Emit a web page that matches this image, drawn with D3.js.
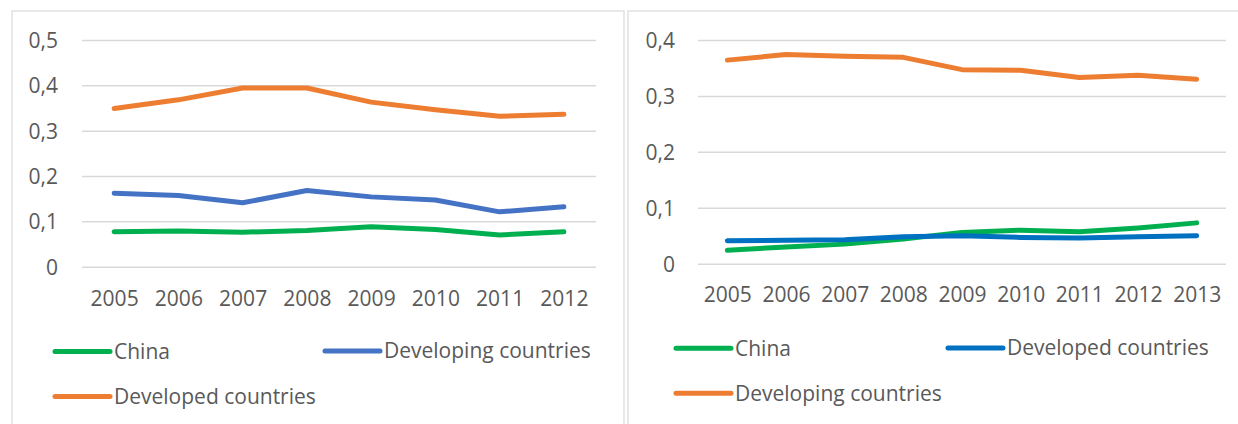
<!DOCTYPE html>
<html><head><meta charset="utf-8">
<script src="https://cdn.jsdelivr.net/npm/d3@7"></script>
<style>body{margin:0;background:#fff}svg{display:block}text{font-family:"Open Sans",sans-serif;fill:#595959}</style>
</head><body><svg id="c" width="1238" height="424"></svg>
<script>
// Left chart data
const yearsL = ["2005","2006","2007","2008","2009","2010","2011","2012"];
const chinaL = [0.077,0.079,0.076,0.080,0.088,0.082,0.070,0.077];
const developingL = [0.162,0.157,0.141,0.168,0.154,0.147,0.121,0.132];
const developedL = [0.349,0.368,0.394,0.394,0.363,0.346,0.332,0.336];
const ticksL = [0,0.1,0.2,0.3,0.4,0.5];
// Right chart data
const yearsR = ["2005","2006","2007","2008","2009","2010","2011","2012","2013"];
const chinaR = [0.024,0.030,0.035,0.044,0.056,0.060,0.057,0.064,0.073];
const developedR = [0.041,0.042,0.043,0.048,0.050,0.047,0.046,0.048,0.050];
const developingR = [0.364,0.374,0.371,0.369,0.347,0.346,0.333,0.337,0.330];
const ticksR = [0,0.1,0.2,0.3,0.4];

const svg = d3.select("#c");
const fmt = v => v === 0 ? "0" : d3.format(".1f")(v).replace(".", ",");
const FS = 21;

function chart(cfg){
  const g = svg.append("g");
  g.append("rect").attr("x",cfg.box[0]).attr("y",cfg.box[1]).attr("width",cfg.box[2]).attr("height",cfg.box[3])
    .attr("fill","#fff").attr("stroke","#D9D9D9").attr("stroke-width",1.2);
  const x = d3.scalePoint().domain(cfg.years).range([cfg.x0,cfg.x1]).padding(0.5);
  const y = d3.scaleLinear().domain([0,d3.max(cfg.ticks)]).range([cfg.y0,cfg.y1]);
  const ya = d3.axisLeft(y).tickValues(cfg.ticks).tickFormat(fmt).tickSize(-(cfg.x1-cfg.x0)).tickPadding(cfg.x0-cfg.labR);
  const yg = g.append("g").attr("transform",`translate(${cfg.x0},0)`).call(ya);
  yg.select(".domain").remove();
  yg.selectAll(".tick line").attr("stroke","#D9D9D9").attr("stroke-width",1.5);
  yg.selectAll(".tick text").attr("font-size",FS).attr("fill","#595959").attr("dy","0.35em");
  const xa = d3.axisBottom(x).tickSize(0).tickPadding(0);
  const xg = g.append("g").attr("transform",`translate(0,${cfg.xlabY})`).call(xa);
  xg.select(".domain").remove();
  xg.selectAll(".tick text").attr("font-size",FS).attr("fill","#595959").attr("dy","0");
  const line = d3.line().x((d,i)=>x(cfg.years[i])).y(d=>y(d));
  cfg.series.forEach(s=>{
    g.append("path").datum(s.values).attr("d",line).attr("fill","none").attr("stroke",s.color)
      .attr("stroke-width",5).attr("stroke-linejoin","round").attr("stroke-linecap","round");
  });
  cfg.legend.forEach(l=>{
    const s = cfg.series[l.i];
    g.append("line").attr("x1",l.x).attr("x2",l.x+55).attr("y1",l.y).attr("y2",l.y)
      .attr("stroke",s.color).attr("stroke-width",5).attr("stroke-linecap","round");
    g.append("text").attr("x",l.x+59).attr("y",l.y).attr("dy","0.35em").attr("font-size",FS).text(s.name);
  });
}

chart({box:[12,11,612,430], years:yearsL, ticks:ticksL, x0:82, x1:596, y0:266.7, y1:40, labR:58, xlabY:306,
  series:[{name:"China",values:chinaL,color:"#00B050"},
          {name:"Developing countries",values:developingL,color:"#4472C4"},
          {name:"Developed countries",values:developedL,color:"#ED7D31"}],
  legend:[{i:0,x:55,y:351.5},{i:1,x:325,y:351},{i:2,x:55,y:396.5}]});

chart({box:[628,11,620,430], years:yearsR, ticks:ticksR, x0:698, x1:1226, y0:263.7, y1:40, labR:675, xlabY:302,
  series:[{name:"China",values:chinaR,color:"#00B050"},
          {name:"Developed countries",values:developedR,color:"#0070C0"},
          {name:"Developing countries",values:developingR,color:"#ED7D31"}],
  legend:[{i:0,x:676,y:348.3},{i:1,x:948,y:348},{i:2,x:676,y:393.3}]});
</script></body></html>
